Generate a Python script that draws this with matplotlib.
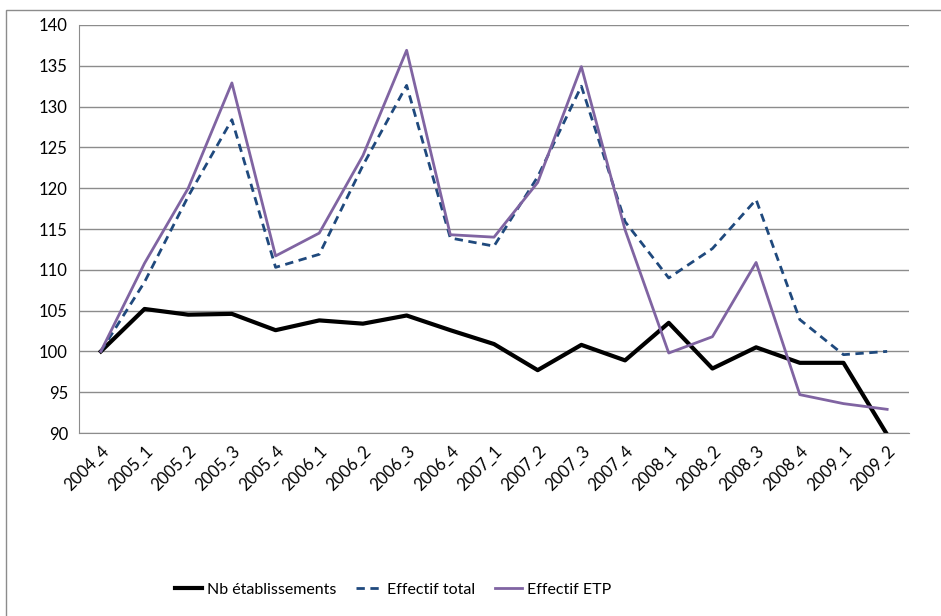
import matplotlib.pyplot as plt
from matplotlib.patches import Rectangle

periodes = ["2004_4", "2005_1", "2005_2", "2005_3", "2005_4", "2006_1", "2006_2",
            "2006_3", "2006_4", "2007_1", "2007_2", "2007_3", "2007_4", "2008_1",
            "2008_2", "2008_3", "2008_4", "2009_1", "2009_2"]
nb_etab = [100, 105.2, 104.5, 104.6, 102.6, 103.8, 103.4, 104.4, 102.6, 100.9,
           97.7, 100.8, 98.9, 103.5, 97.9, 100.5, 98.6, 98.6, 89.8]
eff_total = [100, 108.5, 119.0, 128.4, 110.3, 111.9, 122.8, 132.6, 113.9, 112.9,
             121.4, 132.5, 115.9, 109.0, 112.6, 118.6, 103.9, 99.6, 100.0]
eff_etp = [100, 110.8, 120.0, 132.9, 111.7, 114.5, 124.0, 136.9, 114.3, 114.0,
           120.7, 134.9, 114.9, 99.8, 101.8, 110.9, 94.7, 93.6, 92.9]

plt.rcParams['font.family'] = ['Lato', 'DejaVu Sans']

fig = plt.figure(figsize=(9.41, 6.16), dpi=100)
ax = fig.add_axes([79/941, 1-433/616, (909-79)/941, (433-25)/616])

x = range(len(periodes))
ax.plot(x, nb_etab, color='black', lw=3, label='Nb établissements')
ax.plot(x, eff_total, color='#1F497D', lw=2, ls=(0, (3, 2)), label='Effectif total')
ax.plot(x, eff_etp, color='#8064A2', lw=2, label='Effectif ETP')

ax.set_ylim(90, 140)
ax.set_yticks(range(90, 141, 5))
ax.set_xlim(-0.5, len(periodes) - 0.5)
ax.set_xticks(list(x))
ax.set_xticklabels(periodes, rotation=45, ha='right', rotation_mode='anchor')
ax.tick_params(axis='both', length=0, labelsize=12)
ax.tick_params(axis='y', pad=8)
ax.tick_params(axis='x', pad=7)
ax.grid(axis='y', color='#8c8c8c', lw=1)
ax.set_axisbelow(True)
for s in ['top', 'right']:
    ax.spines[s].set_visible(False)
for s in ['left', 'bottom']:
    ax.spines[s].set_color('#8c8c8c')

fig.legend(loc='center', bbox_to_anchor=(393/941, 1-590/616), ncol=3, frameon=False,
           fontsize=11.5, handlelength=1.7, columnspacing=1.2, handletextpad=0.3)

fig.add_artist(Rectangle((6/941, -0.1), 1.2, 1.1 - 10/616, transform=fig.transFigure,
                         fill=False, edgecolor='#8c8c8c', lw=1))

fig.savefig('out.png')
